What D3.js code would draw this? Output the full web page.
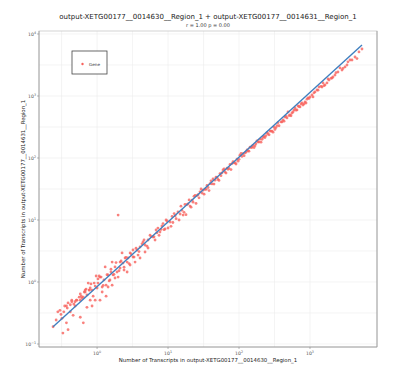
<!DOCTYPE html>
<html>
<head>
<meta charset="utf-8">
<script src="https://cdn.jsdelivr.net/npm/d3@7"></script>
<style>
  body { margin: 0; background: #fff; }
  text { font-family: "DejaVu Sans", sans-serif; }
</style>
</head>
<body>
<svg id="chart" width="395" height="380"></svg>
<script>
// values (transcript counts, log-log)
const titleText = 'output-XETG00177__0014630__Region_1 + output-XETG00177__0014631__Region_1';
const subtitleText = 'r = 1.00 p = 0.00';
const xLabel = 'Number of Transcripts in output-XETG00177__0014630__Region_1';
const yLabel = 'Number of Transcripts in output-XETG00177__0014631__Region_1';
const legendLabel = 'Gene';

const xTickExps = [0, 1, 2, 3];
const yTickExps = [-1, 0, 1, 2, 3, 4];

// region_1 (0014630) counts per gene
const geneX = [
  0.24, 0.28, 0.30, 0.33, 0.37, 0.39, 0.35, 0.38, 0.39, 0.42, 0.44, 0.46, 0.49, 0.49, 0.52, 0.58, 0.58,
  0.61, 0.64, 0.64, 0.68, 0.72, 0.72, 0.75, 0.78, 0.80, 0.85, 0.88, 0.94, 0.94, 1.0, 1.03, 1.10, 1.10,
  1.18, 1.25, 1.30, 1.34, 1.43, 1.43, 1.52, 1.57, 1.63, 1.68, 1.79, 1.79, 1.91, 1.98, 1.98, 2.11, 2.11,
  2.25, 2.32, 2.40, 2.48, 2.65, 2.65, 2.73, 2.92, 2.92, 3.21, 3.21, 3.43, 3.66, 3.78, 4.03, 4.03, 4.44,
  4.74, 5.23, 5.23, 5.58, 6.15, 6.56, 7.0, 7.7, 7.2, 8.2, 4.74, 1.18, 0.85, 1.34, 1.63, 0.97,
  0.265, 0.32, 0.34, 0.42, 0.47, 0.51, 0.56, 0.60, 0.66, 0.70, 0.77, 0.82, 0.91, 1.07, 1.14, 1.22,
  1.38, 1.48, 1.57, 1.73, 1.85, 2.04, 2.18, 2.40, 2.56, 2.82, 3.01, 3.32, 3.54, 3.9, 4.3, 4.59, 5.06,
  5.77, 6.35, 6.78, 7.47, 7.97, 8.78, 1.03, 0.68, 0.80, 0.58, 0.44, 0.37, 0.31,
  8.5, 9.08, 9.68, 10, 10.7, 11.4, 11.7, 12.6, 13.0, 13.8, 14.8, 15.7, 16.3, 17.3, 18.5, 19.1, 20.4,
  21.8, 22.5, 24.0, 25.6, 26.5, 28.2, 30.1, 31.1, 33.2, 35.4, 36.6, 39.0, 41.7, 43.0, 45.9, 49.0, 50.6,
  54.0, 57.6, 59.5, 63.5, 67.8, 70.0, 74.7, 79.7, 82.3, 87.9, 93.7, 96.8, 103, 110, 114, 122, 130, 134,
  143, 152, 157, 168, 179, 185, 198, 211, 225, 232, 248, 256, 273, 292, 311, 321, 343, 354,
  9.38, 11.0, 12.2, 14.3, 15.2, 16.8, 17.9, 19.8, 21.1, 23.2, 24.8, 27.3, 29.2, 32.2, 34.3, 37.8,
  40.3, 44.4, 47.4, 52.2, 55.7, 61.5, 65.6, 72.3, 77.1, 85.0, 90.8, 100, 107, 118, 126, 138, 148,
  163, 173, 191, 204, 218, 240, 265, 282, 301, 332, 366,
  403, 417, 444, 474, 490, 523, 557, 577, 615, 656, 678, 723, 747, 797, 851, 879, 937, 1000, 1067,
  1102, 1176, 1256, 1340, 1476, 1524, 1627, 1735, 1853, 2042, 2109, 2251, 2478, 2648, 2825, 3114,
  3320, 3663, 3908, 4308, 4898, 5400,
  391, 431, 459, 506, 540, 595, 635, 700, 771, 823, 907, 968, 1138, 1297, 1429, 1574, 1794, 1977,
  2323, 2917, 3428, 4592
];
// region_1 (0014631) counts per gene, same order
const geneY = [
  0.19, 0.33, 0.35, 0.15, 0.22, 0.17, 0.41, 0.38, 0.46, 0.33, 0.48, 0.29, 0.48, 0.41, 0.51, 0.51, 0.27,
  0.55, 0.57, 0.22, 0.69, 0.62, 0.39, 0.96, 0.74, 0.51, 0.74, 0.59, 0.51, 0.86, 0.80, 0.96, 1.2, 0.51,
  0.83, 1.08, 1.75, 0.89, 0.83, 1.3, 1.08, 1.45, 0.89, 1.3, 1.75, 1.16, 1.45, 1.2, 12.0, 1.68, 2.1,
  2.94, 2.02, 1.56, 2.44, 1.45, 2.1, 2.44, 2.94, 1.88, 2.53, 3.28, 2.1, 3.28, 2.72, 3.67, 2.44, 4.42,
  3.95, 4.76, 3.53, 5.7, 5.32, 4.76, 6.2, 6.4, 7.4, 8.0, 3.05, 0.69, 0.41, 0.59, 2.1, 1.25,
  0.244, 0.26, 0.33, 0.43, 0.44, 0.51, 0.57, 0.59, 0.69, 0.77, 0.74, 0.93, 0.96, 1.25, 1.2, 0.88,
  1.31, 1.04, 1.61, 1.33, 2.06, 1.52, 2.18, 1.73, 2.49, 1.98, 2.85, 2.52, 3.50, 3.10, 4.13, 4.76, 3.78,
  5.40, 5.36, 6.90, 5.66, 7.05, 6.98, 1.12, 0.74, 0.80, 0.64, 0.51, 0.41, 0.30,
  8.75, 7.16, 9.63, 7.43, 9.29, 11.4, 9.12, 11.7, 10.5, 13.5, 12.5, 14.3, 12.0, 17.8, 17.7, 18.2, 16.8,
  20.9, 19.4, 24.9, 24.8, 25.6, 28.5, 27.2, 30.3, 31.3, 36.0, 33.4, 38.5, 38.2, 45.8, 43.9, 48.8, 45.2,
  56.0, 57.7, 64.3, 59.4, 68.4, 65.7, 78.5, 81.2, 87.1, 83.4, 96.0, 88.8, 111, 106, 118, 121, 135, 130,
  149, 148, 159, 158, 189, 182, 202, 200, 223, 214, 256, 246, 272, 272, 313, 289, 333, 371,
  10.0, 7.91, 12.7, 10.0, 16.7, 13.3, 12.2, 21.1, 16.1, 24.1, 18.5, 22.8, 31.7, 26.1, 31.2, 29.8,
  42.9, 37.9, 49.0, 43.4, 51.8, 66.7, 57.1, 68.0, 65.0, 83.7, 80.0, 95.3, 119, 109, 125, 129, 149,
  147, 170, 181, 180, 215, 230, 236, 272, 261, 310, 331,
  381, 410, 458, 442, 552, 494, 532, 552, 640, 595, 690, 665, 743, 716, 800, 771, 929, 964, 1038,
  964, 1161, 1250, 1396, 1396, 1622, 1504, 1622, 1811, 1950, 2024, 2181, 2438, 2830, 2626, 2937,
  3162, 3807, 3807, 4256, 5128, 5728,
  382, 392, 469, 483, 480, 593, 590, 677, 777, 746, 888, 915, 1126, 1241, 1429, 1466, 1880, 1929,
  2377, 2786, 3562, 4012
];

// fitted line end points
const fitX = [0.24, 5400];
const fitY = [0.19, 6650];

const svg = d3.select('#chart');
const width = Number(svg.attr('width'));
const height = Number(svg.attr('height'));
const margin = { top: 31, right: 18, bottom: 33, left: 39 };

const x = d3.scaleLog()
  .domain([0.152, 8790])
  .range([margin.left, width - margin.right]);
const y = d3.scaleLog()
  .domain([0.0895, 11170])
  .range([height - margin.bottom, margin.top]);

svg.append('rect')
  .attr('x', margin.left).attr('y', margin.top)
  .attr('width', width - margin.left - margin.right)
  .attr('height', height - margin.top - margin.bottom)
  .attr('fill', '#fff');

// grid at every half decade
const halfX = d3.range(-1, 8).map(k => Math.pow(10, k / 2 - 0.5)).filter(v => v > x.domain()[0] && v < x.domain()[1]);
const halfY = d3.range(-2, 10).map(k => Math.pow(10, k / 2 - 0.5)).filter(v => v > y.domain()[0] && v < y.domain()[1]);

const grid = svg.append('g').attr('stroke', '#ececec').attr('stroke-width', 0.6);
grid.selectAll('line.vx').data(halfX).enter().append('line')
  .attr('x1', d => x(d)).attr('x2', d => x(d))
  .attr('y1', margin.top).attr('y2', height - margin.bottom);
grid.selectAll('line.hy').data(halfY).enter().append('line')
  .attr('y1', d => y(d)).attr('y2', d => y(d))
  .attr('x1', margin.left).attr('x2', width - margin.right);

// frame
svg.append('rect')
  .attr('x', margin.left).attr('y', margin.top)
  .attr('width', width - margin.left - margin.right)
  .attr('height', height - margin.top - margin.bottom)
  .attr('fill', 'none')
  .attr('stroke', '#c8c8c8')
  .attr('stroke-width', 0.8);
svg.append('path')
  .attr('d', `M${margin.left},${margin.top}V${height - margin.bottom}H${width - margin.right}V${margin.top}`)
  .attr('fill', 'none')
  .attr('stroke', '#9a9a9a')
  .attr('stroke-width', 0.8);

// ticks
function tickLabel(sel, exp) {
  sel.append('tspan').text('10');
  sel.append('tspan').attr('dy', -2).attr('font-size', 3.3).text(String(exp).replace('-', '\u2212'));
}

const xt = svg.append('g').selectAll('g').data(xTickExps).enter().append('g')
  .attr('transform', d => `translate(${x(Math.pow(10, d))},${height - margin.bottom})`);
xt.append('line').attr('y2', 2).attr('stroke', '#888').attr('stroke-width', 0.6);
xt.append('text')
  .attr('y', 7.5)
  .attr('text-anchor', 'middle')
  .attr('font-size', 4.6)
  .attr('fill', '#555')
  .each(function(d) { tickLabel(d3.select(this), d); });

const yt = svg.append('g').selectAll('g').data(yTickExps).enter().append('g')
  .attr('transform', d => `translate(${margin.left},${y(Math.pow(10, d))})`);
yt.append('line').attr('x2', -2).attr('stroke', '#888').attr('stroke-width', 0.6);
yt.append('text')
  .attr('x', -3)
  .attr('y', 1.6)
  .attr('text-anchor', 'end')
  .attr('font-size', 4.6)
  .attr('fill', '#555')
  .each(function(d) { tickLabel(d3.select(this), d); });

// points
const genes = geneX.map((v, i) => ({ x: v, y: geneY[i] }));
svg.append('g').selectAll('circle').data(genes).enter().append('circle')
  .attr('cx', d => x(d.x))
  .attr('cy', d => y(d.y))
  .attr('r', 1.4)
  .attr('fill', '#f8625c')
  .attr('fill-opacity', 0.8);

// fit line
const fit = fitX.map((v, i) => [v, fitY[i]]);
svg.append('path')
  .datum(fit)
  .attr('d', d3.line().x(d => x(d[0])).y(d => y(d[1])))
  .attr('fill', 'none')
  .attr('stroke', '#3f7fbf')
  .attr('stroke-width', 1.4);

// titles
svg.append('text')
  .attr('x', 208).attr('y', 19)
  .attr('text-anchor', 'middle')
  .attr('font-size', 7)
  .attr('fill', '#222')
  .text(titleText);
svg.append('text')
  .attr('x', 208).attr('y', 26.5)
  .attr('text-anchor', 'middle')
  .attr('font-size', 5)
  .attr('fill', '#333')
  .text(subtitleText);

svg.append('text')
  .attr('x', (margin.left + width - margin.right) / 2)
  .attr('y', 362)
  .attr('text-anchor', 'middle')
  .attr('font-size', 5.4)
  .attr('fill', '#222')
  .text(xLabel);
svg.append('text')
  .attr('transform', `translate(25,${(margin.top + height - margin.bottom) / 2}) rotate(-90)`)
  .attr('text-anchor', 'middle')
  .attr('font-size', 5.4)
  .attr('fill', '#222')
  .text(yLabel);

// legend
const legend = svg.append('g').attr('transform', 'translate(72,51)');
legend.append('rect')
  .attr('width', 35).attr('height', 23)
  .attr('fill', '#fff')
  .attr('stroke', '#444')
  .attr('stroke-width', 0.8);
legend.append('circle')
  .attr('cx', 10.5).attr('cy', 13)
  .attr('r', 1.2)
  .attr('fill', '#f8625c');
legend.append('text')
  .attr('x', 17).attr('y', 14.5)
  .attr('font-size', 4.2)
  .attr('fill', '#333')
  .text(legendLabel);
</script>
</body>
</html>
